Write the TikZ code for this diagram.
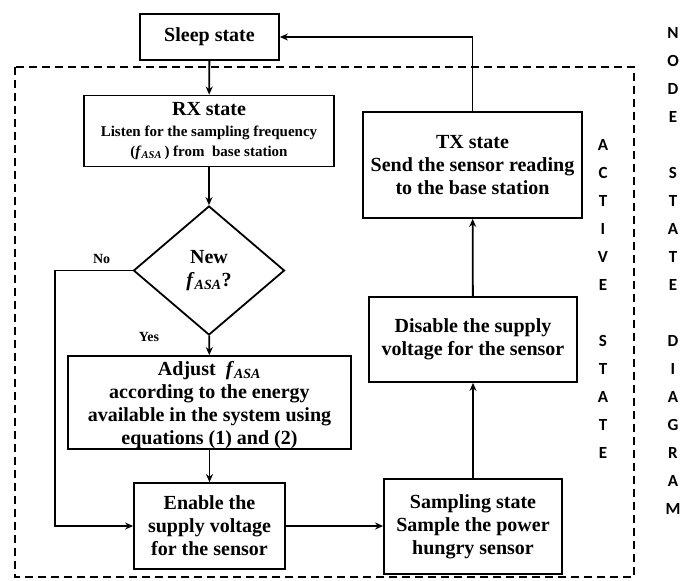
\documentclass[tikz,border=0pt]{standalone}
\usepackage{fontspec}
\setmainfont{Liberation Serif}
\newfontfamily\letterfont{Carlito}
\usetikzlibrary{shapes.geometric,arrows.meta}
\newcommand{\fasa}{\textit{f}\textsubscript{\textit{ASA}}}
\newcommand{\subline}{\fontsize{15}{18}\selectfont}
\colorlet{box edge}{black}
\tikzset{statebox/.style={draw=box edge, line width=1.8pt, align=center, inner sep=2pt,
        font=\fontsize{20}{23}\selectfont\bfseries},
    decision/.style={statebox, diamond, inner sep=0pt},
    flow/.style={draw=box edge, line width=1.8pt, -{Stealth[length=8pt,width=7pt]}},
    letter/.style={font=\fontsize{17}{17}\selectfont\letterfont\bfseries},
    branch/.style={font=\fontsize{14}{14}\selectfont\bfseries}}

\begin{document}
\begin{tikzpicture}[x=1pt,y=-1pt]
    \useasboundingbox (0,0) rectangle (683,581);
    \draw[box edge, line width=1.8pt, dash pattern=on 8pt off 5pt] (15,67) rectangle (634,577);
    \node[statebox, minimum width=139pt, minimum height=46pt] (sleep) at (209.5,37) {Sleep state};
    \node[statebox, minimum width=250pt, minimum height=71pt] (rx) at (209,131)
      {RX state\\[-2pt]{\subline Listen for the sampling frequency}\\[-3pt]{\subline (\fasa\,) from\ \ base station}};
    \node[decision, minimum width=151pt, minimum height=129pt] (new) at (209,270.5) {New\\[0pt]\fasa?};
    \node[statebox, minimum width=283pt, minimum height=93pt, inner ysep=0pt, text depth=-8pt] (adjust) at (209.5,402.5)
      {Adjust \ \fasa\\according to the energy\\available in the system using\\equations (1) and (2)};
    \node[statebox, minimum width=151pt, minimum height=86pt] (enable) at (209.5,526)
      {Enable the\\supply voltage\\for the sensor};
    \node[statebox, minimum width=178pt, minimum height=95pt] (sampling) at (473,526.5)
      {Sampling state\\Sample the power\\hungry sensor};
    \node[statebox, minimum width=208pt, minimum height=85pt] (disable) at (473,339.5)
      {Disable the supply\\voltage for the sensor};
    \node[statebox, minimum width=219pt, minimum height=106pt] (tx) at (472.5,165)
      {TX state\\Send the sensor reading\\to the base station};
    \coordinate (bend) at (55,270.5);
    \node[branch] (yes) at (149,337) {Yes};
    \draw[flow] (sleep) -- (rx);
    \draw[flow] (rx) -- (new);
    \draw[flow] (new) -- (adjust);
    \draw[flow] (new.west) -- node[branch, above=3pt, pos=0.4] (no) {No} (bend) |- (enable.west);
    \draw[flow] (adjust) -- (enable);
    \draw[flow] (enable.east) -- (enable.east -| sampling.west);
    \draw[flow] (sampling) -- (disable);
    \draw[flow] (disable) -- (tx);
    \draw[flow] (tx.north) |- (sleep.east);
    \foreach \l/\k in {N/0,O/1,D/2,E/3,S/5,T/6,A/7,T/8,E/9,D/11,I/12,A/13,G/14,R/15,A/16,M/17}
      \node[letter] (node\k) at (673,33+28*\k) {\l};
    \foreach \l/\k in {A/4,C/5,T/6,I/7,V/8,E/9,S/11,T/12,A/13,T/14,E/15}
      \node[letter] (active\k) at (603,33+28*\k) {\l};
\end{tikzpicture}
\end{document}
